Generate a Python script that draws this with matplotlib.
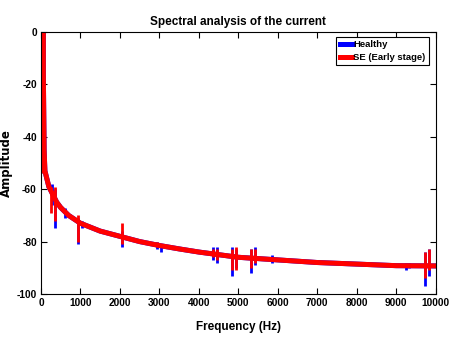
import numpy as np
import matplotlib
matplotlib.use("Agg")
import matplotlib.pyplot as plt
from matplotlib import font_manager

# pick a condensed bold font if there is one
names = set(f.name for f in font_manager.fontManager.ttflist)
if "Liberation Sans Narrow" in names:
    fam = ["Liberation Sans Narrow", "DejaVu Sans"]
else:
    fam = ["Liberation Sans", "DejaVu Sans"]
plt.rcParams['font.family'] = fam
plt.rcParams['font.weight'] = 'bold'
plt.rcParams['axes.unicode_minus'] = False

# baseline of the spectrum (Hz, dB)
freq_base = [0, 20, 50, 80, 100, 150, 200, 300, 400, 500, 700, 1000, 1500,
             2000, 2500, 3000, 3500, 4000, 4500, 5000, 6000, 7000, 8000,
             9000, 10000]
healthy_base = [-53, -45, 0, -45, -53, -56, -59, -62, -65, -67, -70, -73,
                -76, -78, -80, -81.5, -82.8, -84, -85, -86, -87, -88, -88.6,
                -89.2, -89.3]
se_base = [-53, -45, 0, -45, -53, -56, -59, -62, -65, -67, -70, -73,
           -76, -78, -80, -81.5, -82.8, -84, -85, -86, -87, -88, -88.6,
           -89.2, -89.3]

# harmonic spikes: frequency, top, bottom
healthy_spk_f = [270, 350, 600, 950, 1050, 2050, 2950, 3050, 4350, 4450,
                 4840, 4940, 5320, 5430, 5850, 9250, 9330, 9720, 9840]
healthy_spk_hi = [-58, -60, -67, -71, -72, -76, -80, -81, -82, -82,
                  -82, -83, -83, -82, -85, -88, -88, -84, -83]
healthy_spk_lo = [-66, -75, -71, -81, -75, -82, -83, -84, -87, -88,
                  -93, -90, -92, -89, -88, -91, -90, -97, -93]

se_spk_f = [260, 350, 950, 2050, 2950, 4350, 4450, 4840, 4940, 5320, 5430,
            9720, 9840]
se_spk_hi = [-59, -59, -70, -73, -80, -83, -83, -83, -82, -83, -83, -84, -83]
se_spk_lo = [-69, -72, -80, -81, -82, -86, -87, -91, -91, -90, -88, -94, -91]

fig = plt.figure(figsize=(4.5, 3.41), dpi=100)
ax = fig.add_axes([0.091, 0.138, 0.877, 0.768])

ax.plot(freq_base, healthy_base, color='#0000ff', lw=3.6, label='Healthy')
ax.vlines(healthy_spk_f, healthy_spk_lo, healthy_spk_hi, color='#0000ff', lw=2.0)
ax.plot(freq_base, se_base, color='#ff0000', lw=3.6, label='SE (Early stage)')
ax.vlines(se_spk_f, se_spk_lo, se_spk_hi, color='#ff0000', lw=2.0)

ax.set_xlim(0, 10000)
ax.set_ylim(-100, 0)
ax.set_xticks(np.arange(0, 10001, 1000))
ax.set_yticks(np.arange(-100, 1, 20))
ax.tick_params(direction='in', top=True, right=True, labelsize=7.3,
               length=4, width=0.8, pad=3)
for s in ax.spines.values():
    s.set_linewidth(0.8)

ax.set_title('Spectral analysis of the current', fontsize=8.5, fontweight='bold', pad=5)
ax.set_xlabel('Frequency (Hz)', fontsize=8.5, fontweight='bold')
ax.xaxis.set_label_coords(0.5, -0.105)
ax.set_ylabel('Amplitude', fontsize=8.5, fontweight='bold',
              family=['DejaVu Sans'])
ax.yaxis.set_label_coords(-0.07, 0.5)

leg = ax.legend(loc='upper right', fontsize=6.8, handlelength=1.3,
                handletextpad=0.15, borderpad=0.35, labelspacing=0.4,
                fancybox=False, edgecolor='black', framealpha=1,
                borderaxespad=0.5, bbox_to_anchor=(0.995, 1.0))
leg.get_frame().set_linewidth(0.8)

fig.savefig('out.png', dpi=100)
